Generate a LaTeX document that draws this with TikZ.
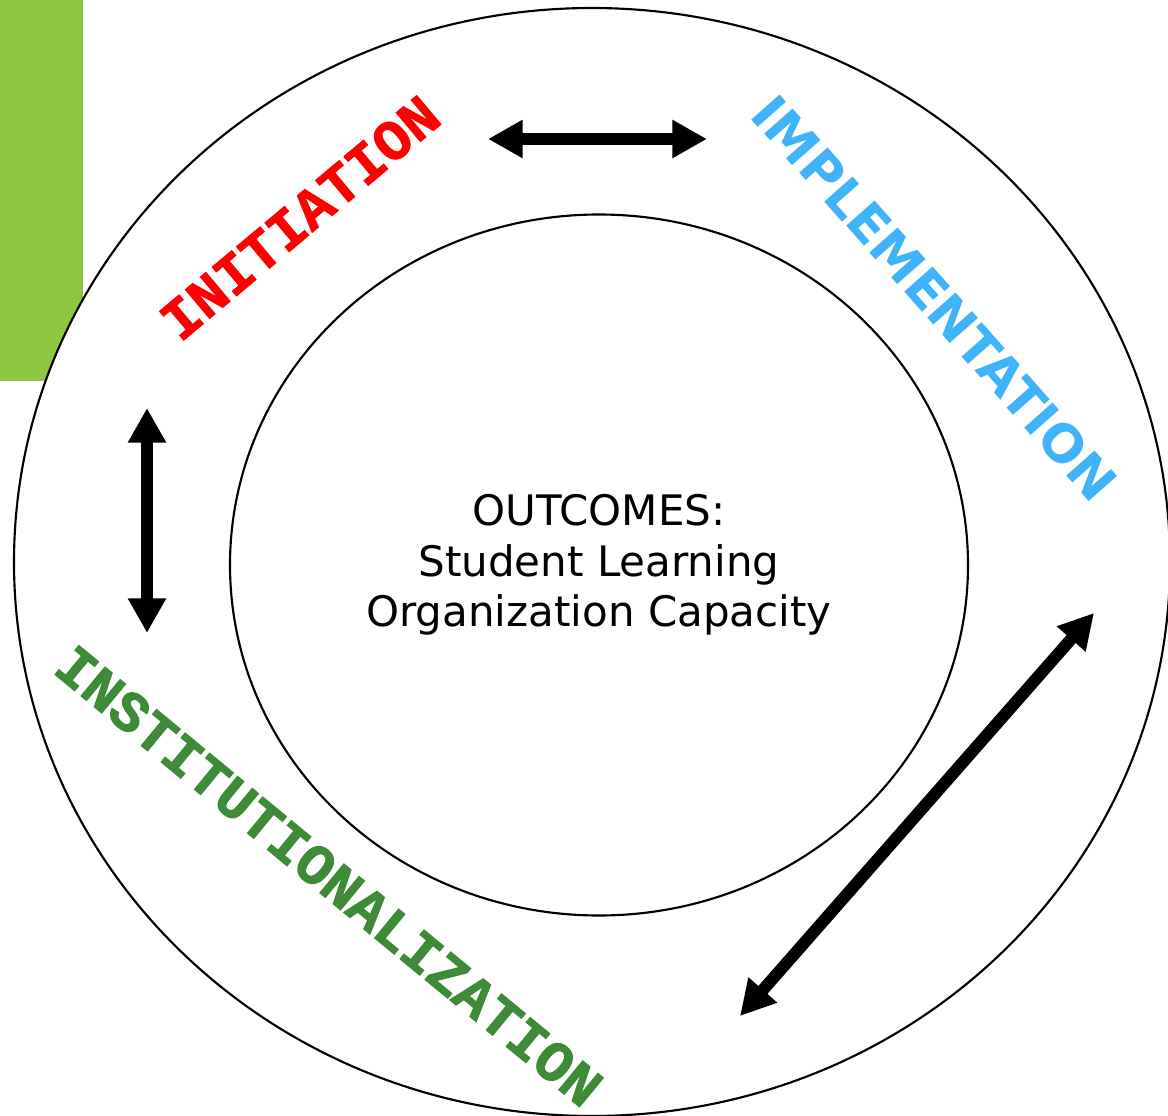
\documentclass[tikz,border=0pt]{standalone}
\usepackage{fontspec}
\setmainfont{DejaVu Sans}
\newfontfamily\monolabel{Liberation Mono}[BoldFeatures={FakeBold=1.6}]
\newfontfamily\sanslabel{DejaVu Sans}
\usetikzlibrary{shapes.geometric,arrows.meta}
\definecolor{barGreen}{RGB}{141,198,65}
\definecolor{initRed}{RGB}{255,0,0}
\definecolor{implBlue}{RGB}{64,180,250}
\definecolor{instGreen}{RGB}{61,139,55}
\begin{document}
\begin{tikzpicture}[x=0.75pt,y=-0.75pt,
  ring/.style={ellipse, draw=black, line width=1.6pt, inner sep=0pt, fill=white},
  biarrow/.style={line width=9pt, {Triangle[length=26pt,width=27pt]}-{Triangle[length=26pt,width=27pt]}},
  stagemono/.style={inner sep=0pt, font=\monolabel\bfseries\fontsize{43pt}{43pt}\selectfont},
  stagesans/.style={inner sep=0pt, font=\sanslabel\bfseries\fontsize{39pt}{39pt}\selectfont}
]
\useasboundingbox (0,0) rectangle (1168,1116);
\fill[barGreen] (0,0) rectangle (83,381);
\node[ring, minimum width=867pt, minimum height=831pt] (outer) at (592,562) {};
\node[ring, minimum width=553.5pt, minimum height=525.75pt, align=center,
      font=\fontsize{31.5pt}{38pt}\selectfont] (outcomes) at (599,565)
      {OUTCOMES:\\Student Learning\\Organization Capacity};
\node[stagemono, text=initRed, rotate=40] (initiation) at (300,218) {INITIATION};
\node[stagesans, text=implBlue, rotate=-48.5] (implementation) at (935,298) {IMPLEMENTATION};
\node[stagemono, text=instGreen, rotate=-39.5] (institution) at (329,876) {INSTITUTIONALIZATION};
\coordinate (h1) at (488,139);
\coordinate (h2) at (707,139);
\coordinate (v1) at (147,408);
\coordinate (v2) at (147,633);
\coordinate (d1) at (740,1016);
\coordinate (d2) at (1094,613);
\draw[biarrow] (h1) -- (h2);
\draw[biarrow] (v1) -- (v2);
\draw[biarrow] (d1) -- (d2);
\end{tikzpicture}
\end{document}
